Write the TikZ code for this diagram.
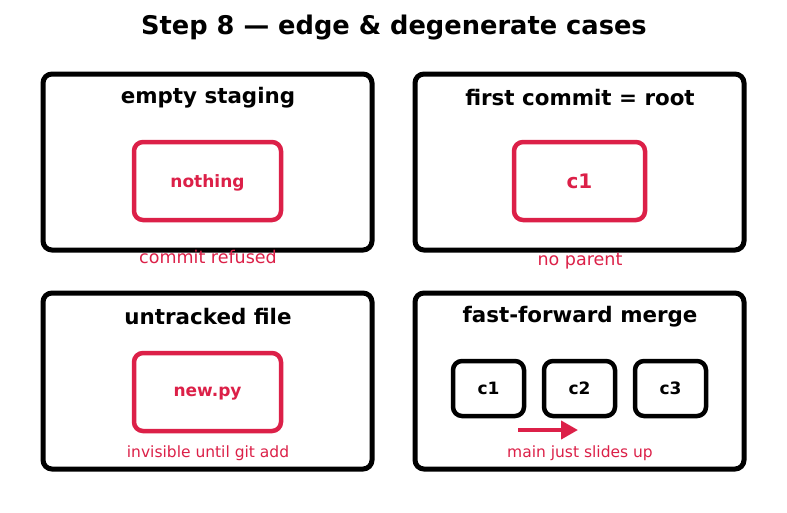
\documentclass[tikz,border=0pt]{standalone}
\usepackage{fontspec}
\setmainfont{DejaVu Sans}
\usetikzlibrary{arrows.meta}
\definecolor{accent}{RGB}{220,32,72}
\tikzset{
  panel/.style={draw=black, line width=5pt, rounded corners=9pt},
  hotbox/.style={draw=accent, line width=4.5pt, rounded corners=9pt},
  commitbox/.style={draw=black, line width=4.5pt, rounded corners=9pt},
  paneltitle/.style={font=\bfseries\fontsize{21.4}{24}\selectfont, text=black},
  hottext/.style={font=\bfseries\fontsize{17}{20}\selectfont, text=accent, text depth=0pt},
  note/.style={font=\fontsize{17.5}{20}\selectfont, text=accent},
  smallnote/.style={font=\fontsize{15.5}{18}\selectfont, text=accent},
  committext/.style={font=\bfseries\fontsize{17}{20}\selectfont},
}
\begin{document}
\begin{tikzpicture}[x=1pt, y=-1pt]
\useasboundingbox[fill=white] (0,0) rectangle (787,512);

% heading
\node[font=\bfseries\fontsize{25.7}{30}\selectfont] (title) at (394,28) {Step 8 — edge \& degenerate cases};

% panel: empty staging
\draw[panel] (43,74) rectangle (372,250);
\node[paneltitle] (t1) at (208,97.5) {empty staging};
\node[hotbox, minimum width=147pt, minimum height=78pt, hottext] (nothing) at (207.5,181) {nothing};
\node[note] (n1) at (208,257) {commit refused};

% panel: first commit
\draw[panel] (415,74) rectangle (744,250);
\node[paneltitle] (t2) at (580,97.5) {first commit = root};
\node[hotbox, minimum width=131pt, minimum height=78pt, font=\bfseries\fontsize{20}{24}\selectfont, text=accent] (root) at (579.5,181) {c1};
\node[note] (n2) at (580,261) {no parent};

% panel: untracked file
\draw[panel] (43,293) rectangle (372,469);
\node[paneltitle] (t3) at (208,316.5) {untracked file};
\node[hotbox, minimum width=147pt, minimum height=78pt, hottext] (newpy) at (207.5,392) {new.py};
\node[smallnote] (n3) at (208,453) {invisible until git add};

% panel: fast-forward merge
\draw[panel] (415,293) rectangle (744,469);
\node[paneltitle] (t4) at (580,316.5) {fast-forward merge};
\node[commitbox, minimum width=71pt, minimum height=55pt, committext] (c1) at (488.5,388.5) {c1};
\node[commitbox, minimum width=71pt, minimum height=55pt, committext] (c2) at (579.5,388.5) {c2};
\node[commitbox, minimum width=71pt, minimum height=55pt, committext] (c3) at (670.5,388.5) {c3};
\coordinate (slideA) at (518,430);
\coordinate (slideB) at (578,430);
\draw[accent, line width=4pt, -{Triangle[length=17pt,width=18pt]}] (slideA) -- (slideB);
\node[smallnote] (n4) at (580,453) {main just slides up};
\end{tikzpicture}
\end{document}
